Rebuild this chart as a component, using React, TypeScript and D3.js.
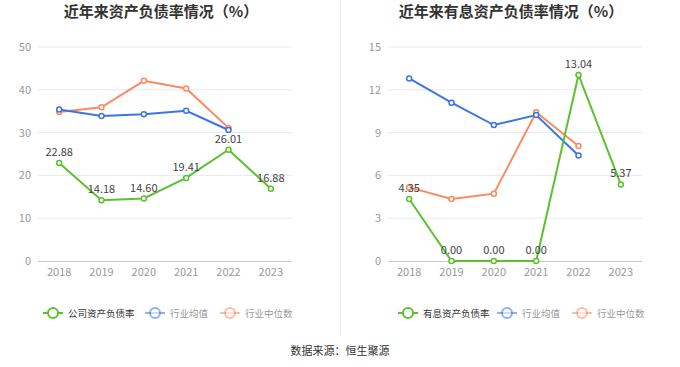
import * as d3 from "d3";

const years = ["2018", "2019", "2020", "2021", "2022", "2023"];

const companyDebt = [22.88, 14.18, 14.6, 19.41, 26.01, 16.88];
const industryAvgDebt = [35.4, 33.9, 34.3, 35.1, 30.6, null];
const industryMedDebt = [34.8, 35.9, 42.1, 40.3, 31.1, null];

const interestDebt = [4.35, 0, 0, 0, 13.04, 5.37];
const industryAvgInterest = [12.8, 11.1, 9.53, 10.23, 7.4, null];
const industryMedInterest = [5.16, 4.34, 4.72, 10.42, 8.06, null];

const leftTicks = [0, 10, 20, 30, 40, 50];
const rightTicks = [0, 3, 6, 9, 12, 15];

const GREEN = "#5bc22d";
const BLUE = "#3d74e4";
const ORANGE = "#fb8a5f";
const FONT = "'Noto Sans CJK SC', 'Noto Sans', sans-serif";

type Series = { name: string; values: (number | null)[]; color: string; labels?: boolean };

function Panel({
  x0,
  title,
  ticks,
  max,
  series,
  legend,
}: {
  x0: number;
  title: string;
  ticks: number[];
  max: number;
  series: Series[];
  legend: { name: string; color: string; active: boolean; x: number }[];
}) {
  const x = d3.scaleBand().domain(years).range([x0 + 38, x0 + 292]);
  const y = d3.scaleLinear().domain([0, max]).range([261, 47]);
  const cx = (d: string) => (x(d) as number) + x.bandwidth() / 2;
  const line = d3
    .line<number | null>()
    .defined((d) => d != null)
    .x((_, i) => cx(years[i]))
    .y((d) => y(d as number));

  return (
    <g>
      <text x={x0 + 161} y={17} textAnchor="middle" fontSize={15} fontWeight="bold" fill="#333" fontFamily={FONT}>
        {title}
      </text>
      {ticks.map((t) => (
        <g key={t}>
          {t > 0 && <line x1={x0 + 38} x2={x0 + 292} y1={y(t)} y2={y(t)} stroke="#e6e9f2" />}
          <text x={x0 + 31} y={y(t) + 4} textAnchor="end" fontSize={11} fill="#999" fontFamily={FONT}>
            {t}
          </text>
        </g>
      ))}
      <line x1={x0 + 38} x2={x0 + 292} y1={261.5} y2={261.5} stroke="#c8c8c8" />
      {years.map((yr) => (
        <text key={yr} x={cx(yr)} y={276} textAnchor="middle" fontSize={11} fill="#999" fontFamily={FONT}>
          {yr}
        </text>
      ))}
      {series
        .slice()
        .reverse()
        .map((s) => (
          <g key={s.name}>
            <path d={line(s.values) || ""} fill="none" stroke={s.color} strokeWidth={2} />
            {s.values.map((v, i) =>
              v == null ? null : (
                <circle key={i} cx={cx(years[i])} cy={y(v)} r={2.5} fill="#fff" stroke={s.color} strokeWidth={1.5} />
              )
            )}
          </g>
        ))}
      {series
        .filter((s) => s.labels)
        .map((s) =>
          s.values.map((v, i) =>
            v == null ? null : (
              <text
                key={s.name + i}
                x={cx(years[i])}
                y={y(v) - 7}
                textAnchor="middle"
                fontSize={11}
                fill="#444"
                fontFamily={FONT}
              >
                {v.toFixed(2)}
              </text>
            )
          )
        )}
      {legend.map((l) => (
        <g key={l.name}>
          <line x1={l.x} x2={l.x + 20} y1={313} y2={313} stroke={l.color} strokeWidth={2} opacity={l.active ? 1 : 0.55} />
          <circle cx={l.x + 10} cy={313} r={5} fill="#fff" stroke={l.color} strokeWidth={2} opacity={l.active ? 1 : 0.55} />
          <text x={l.x + 25} y={316.5} fontSize={9.5} fill={l.active ? "#333" : "#999"} fontFamily={FONT}>
            {l.name}
          </text>
        </g>
      ))}
    </g>
  );
}

export default function App() {
  return (
    <svg width={680} height={367} style={{ position: "absolute", left: 0, top: 0, background: "#fff" }}>
      <rect width={680} height={367} fill="#fff" />
      <line x1={340.5} x2={340.5} y1={0} y2={335} stroke="#eeeeee" />
      <Panel
        x0={0}
        title="近年来资产负债率情况（%）"
        ticks={leftTicks}
        max={50}
        series={[
          { name: "公司资产负债率", values: companyDebt, color: GREEN, labels: true },
          { name: "行业均值", values: industryAvgDebt, color: BLUE },
          { name: "行业中位数", values: industryMedDebt, color: ORANGE },
        ]}
        legend={[
          { name: "公司资产负债率", color: GREEN, active: true, x: 43 },
          { name: "行业均值", color: BLUE, active: false, x: 145 },
          { name: "行业中位数", color: ORANGE, active: false, x: 220 },
        ]}
      />
      <Panel
        x0={350}
        title="近年来有息资产负债率情况（%）"
        ticks={rightTicks}
        max={15}
        series={[
          { name: "有息资产负债率", values: interestDebt, color: GREEN, labels: true },
          { name: "行业均值", values: industryAvgInterest, color: BLUE },
          { name: "行业中位数", values: industryMedInterest, color: ORANGE },
        ]}
        legend={[
          { name: "有息资产负债率", color: GREEN, active: true, x: 398 },
          { name: "行业均值", color: BLUE, active: false, x: 497 },
          { name: "行业中位数", color: ORANGE, active: false, x: 572 },
        ]}
      />
      <text x={340} y={355} textAnchor="middle" fontSize={11} fill="#333" fontFamily={FONT}>
        数据来源：恒生聚源
      </text>
    </svg>
  );
}
